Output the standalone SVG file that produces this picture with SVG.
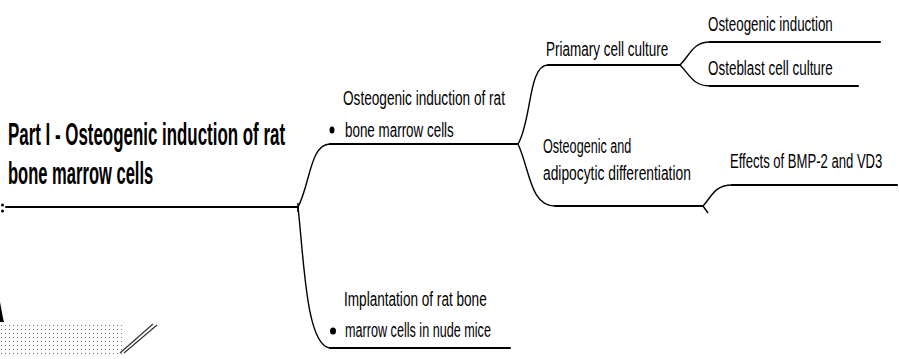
<svg xmlns="http://www.w3.org/2000/svg" width="899" height="359" viewBox="0 0 899 359">
<defs>
<style>
.t{font-family:"Liberation Sans",Arial,sans-serif;fill:#000}
.title{font-size:32px;font-weight:bold}
.s{font-size:20px}
.ln{fill:none;stroke:#000;stroke-width:2.2;stroke-linecap:round}
.cv{fill:none;stroke:#000;stroke-width:1.4}
</style>
<pattern id="dots" width="4" height="4" patternUnits="userSpaceOnUse">
<rect x="1" y="1" width="1" height="1" fill="#777"/>
</pattern>
</defs>
<rect width="899" height="359" fill="#fff"/>
<g id="connectors">
<path class="ln" d="M6,207 L298,207"/>
<path class="cv" d="M298,203 L298,212"/>
<path class="cv" d="M298,207 C310,185 310,144 330,144"/>
<path class="ln" d="M330,144 L518,144"/>
<path class="cv" d="M298,207 C304,260 306,345 330,348"/>
<path class="ln" d="M330,348 L510,348"/>
<path class="cv" d="M518,144 C532,120 528,65 548,65"/>
<path class="ln" d="M548,65 L680,65"/>
<path class="cv" d="M518,144 C530,170 530,206 555,206"/>
<path class="ln" d="M555,206 L703,206"/>
<path class="cv" d="M680,65 C690,55 693,42 710,42"/>
<path class="ln" d="M710,42 L880,42"/>
<path class="cv" d="M680,65 C690,75 693,86 710,86"/>
<path class="ln" d="M710,86 L858,86"/>
<path class="cv" d="M703,206 C712,196 715,185 732,185"/>
<path class="ln" d="M732,185 L897,185"/>
<path class="cv" d="M703,206 L708,213"/>
</g>
<g id="artifacts">
<circle cx="2.5" cy="205" r="1.5"/>
<circle cx="2.5" cy="211" r="1.5"/>
<polygon points="0,302 3,318 4,322 0,322"/>
<rect x="0" y="323" width="125" height="32" fill="url(#dots)"/>
<path d="M120,353 L153,324 M124,353 L157,325" stroke="#333" stroke-width="1.2" fill="none"/>
</g>
<g id="root">
<text class="t title" transform="translate(8,145) scale(0.54,1)" textLength="513" lengthAdjust="spacingAndGlyphs">Part I - Osteogenic induction of rat</text>
<text class="t title" transform="translate(8,184) scale(0.54,1)" textLength="269" lengthAdjust="spacingAndGlyphs">bone marrow cells</text>
</g>
<g id="n1">
<text class="t s" transform="translate(343,105) scale(0.64,1)" textLength="253" lengthAdjust="spacingAndGlyphs">Osteogenic induction of rat</text>
<ellipse cx="332" cy="130" rx="2.5" ry="3.5"/>
<text class="t s" transform="translate(345,137) scale(0.64,1)" textLength="170" lengthAdjust="spacingAndGlyphs">bone marrow cells</text>
</g>
<g id="n2">
<text class="t s" transform="translate(344,306) scale(0.64,1)" textLength="223" lengthAdjust="spacingAndGlyphs">Implantation of rat bone</text>
<ellipse cx="333" cy="331" rx="3" ry="3.5"/>
<text class="t s" transform="translate(345,337) scale(0.64,1)" textLength="228" lengthAdjust="spacingAndGlyphs">marrow cells in nude mice</text>
</g>
<g id="n3">
<text class="t s" transform="translate(546,56) scale(0.64,1)" textLength="191" lengthAdjust="spacingAndGlyphs">Priamary cell culture</text>
</g>
<g id="n4">
<text class="t s" transform="translate(708,31) scale(0.64,1)" textLength="195" lengthAdjust="spacingAndGlyphs">Osteogenic induction</text>
</g>
<g id="n5">
<text class="t s" transform="translate(708,75) scale(0.64,1)" textLength="195" lengthAdjust="spacingAndGlyphs">Osteblast cell culture</text>
</g>
<g id="n6">
<text class="t s" transform="translate(543,153) scale(0.64,1)" textLength="138" lengthAdjust="spacingAndGlyphs">Osteogenic and</text>
<text class="t s" transform="translate(543,180) scale(0.64,1)" textLength="231" lengthAdjust="spacingAndGlyphs">adipocytic differentiation</text>
</g>
<g id="n7">
<text class="t s" transform="translate(730,168) scale(0.64,1)" textLength="238" lengthAdjust="spacingAndGlyphs">Effects of BMP-2 and VD3</text>
</g>
</svg>
